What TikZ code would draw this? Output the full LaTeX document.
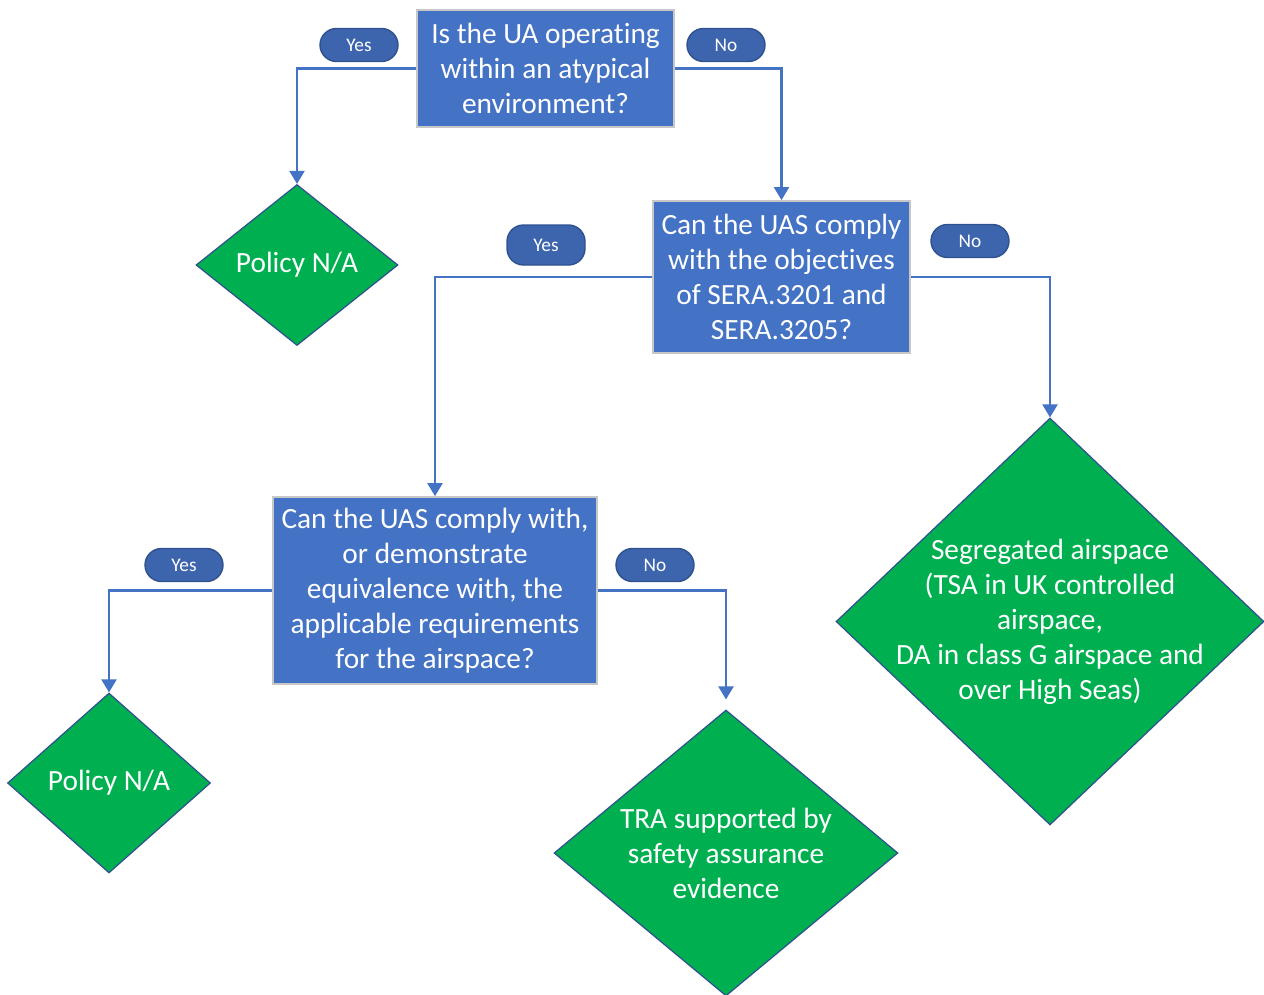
\documentclass[tikz,border=0pt]{standalone}
\usepackage{fontspec}
\setmainfont{Carlito}[Ligatures=NoCommon]
\usepackage{tikz}
\usetikzlibrary{arrows.meta,shapes.geometric}
\usepackage{xcolor}
\definecolor{qblue}{HTML}{4472C4}
\definecolor{pillblue}{HTML}{3D65AE}
\definecolor{edgeblue}{HTML}{2F528F}
\definecolor{endgreen}{HTML}{00B050}
\newcommand{\boxgrey}{black!22}

\begin{document}
\begin{tikzpicture}[x=0.02cm,y=-0.02cm]
    \tikzstyle{question}=[rectangle,fill=qblue,draw=\boxgrey,line width=1pt,text=white,align=center,inner sep=0pt,font=\fontsize{16.7}{19.9}\selectfont]
    \tikzstyle{pill}=[rectangle,rounded corners=0.33cm,fill=pillblue,draw=edgeblue,line width=0.8pt,text=white,minimum width=1.56cm,minimum height=0.66cm,font=\fontsize{11}{12}\selectfont]
    \tikzstyle{endpt}=[diamond,fill=endgreen,draw=edgeblue,line width=0.7pt,inner sep=0pt]
    \tikzstyle{endtxt}=[text=white,align=center,font=\fontsize{16.7}{19.9}\selectfont]
    \tikzset{flow/.style={draw=qblue,line width=1.25pt,-{Triangle[width=0.3cm,length=0.26cm]}}}
    \useasboundingbox (0,0) rectangle (1264,994);
    % questions
    \node[question,minimum width=5.14cm,minimum height=2.34cm] (q1) at (545.5,68.5) {Is the UA operating\\within an atypical\\environment?};
    \node[question,minimum width=5.14cm,minimum height=3.04cm] (q2) at (781.5,277) {Can the UAS comply\\with the objectives\\of SERA.3201 and\\SERA.3205?};
    \node[question,minimum width=6.48cm,minimum height=3.74cm] (q3) at (435,590.5) {Can the UAS comply with,\\or demonstrate\\equivalence with, the\\applicable requirements\\for the airspace?};
    % outcomes
    \node[endpt,minimum width=4.04cm,minimum height=3.22cm] (d1) at (297,265) {};
    \node[endtxt] (d1t) at (d1) {Policy N/A};
    \node[endpt,minimum width=8.56cm,minimum height=8.14cm] (d2) at (1050,621.5) {};
    \node[endtxt] (d2t) at (d2) {Segregated airspace\\(TSA in UK controlled\\airspace,\\DA in class G airspace and\\over High Seas)};
    \node[endpt,minimum width=4.06cm,minimum height=3.6cm] (d3) at (109,783) {};
    \node[endtxt] (d3t) at (d3) {Policy N/A};
    \node[endpt,minimum width=6.88cm,minimum height=5.72cm] (d4) at (726,853) {};
    \node[endtxt] (d4t) at (d4) {TRA supported by\\safety assurance\\evidence};
    % answers
    \node[pill] (y1) at (359,45) {Yes};
    \node[pill] (n1) at (726,45) {No};
    \node[pill,minimum height=0.8cm] (y2) at (546,245) {Yes};
    \node[pill] (n2) at (970,241) {No};
    \node[pill] (y3) at (184,565) {Yes};
    \node[pill] (n3) at (655,565) {No};
    % connectors
    \draw[flow] (q1.west) -| (d1.north);
    \draw[flow] (q1.east) -| (q2.north);
    \draw[flow] (q2.west) -| (q3.north);
    \draw[flow] (q2.east) -| (d2.north);
    \draw[flow] (q3.west) -| (d3.north);
    \draw[flow,shorten >=0.2cm] (q3.east) -| (d4.north);
\end{tikzpicture}
\end{document}
